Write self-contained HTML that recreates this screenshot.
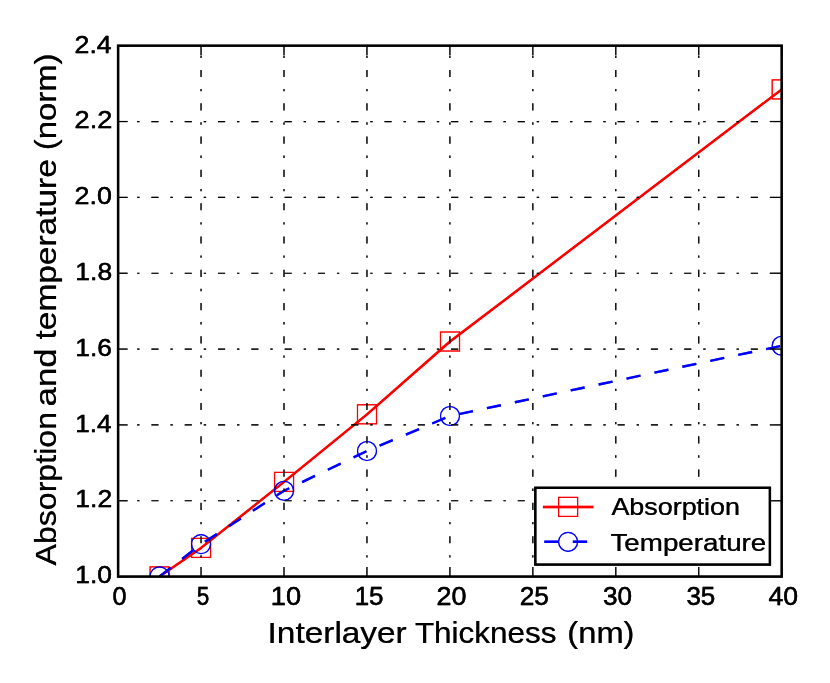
<!DOCTYPE html>
<html lang="en"><head><meta charset="utf-8"><title>Absorption and temperature vs interlayer thickness</title>
<style>html,body{margin:0;padding:0;background:#fff;overflow:hidden}svg{display:block}text{font-family:"Liberation Sans",sans-serif;fill:#000;stroke:#000;stroke-linejoin:round}</style>
</head><body>
<svg width="830" height="683" viewBox="0 0 830 683" style="will-change:transform">
<defs><filter id="gm" x="0" y="0" width="830" height="683" filterUnits="userSpaceOnUse" color-interpolation-filters="sRGB"><feComponentTransfer><feFuncR type="gamma" exponent="1.50"/><feFuncG type="gamma" exponent="1.50"/><feFuncB type="gamma" exponent="1.50"/></feComponentTransfer></filter></defs>
<g filter="url(#gm)">
<rect x="0" y="0" width="830" height="683" fill="#fff"/>
<defs><clipPath id="ax"><rect x="118.10" y="45.70" width="663.60" height="530.90"/></clipPath></defs>
<g clip-path="url(#ax)" fill="none">
<polyline points="159.60,576.40 201.05,547.90 284.05,481.90 367.00,414.30 450.00,341.50 781.70,89.40" stroke="#f00" stroke-width="2.38" stroke-linejoin="round"/>
<rect x="150.09" y="566.89" width="19.03" height="19.03" stroke="#f00" stroke-width="1.19"/>
<rect x="191.54" y="538.39" width="19.03" height="19.03" stroke="#f00" stroke-width="1.19"/>
<rect x="274.54" y="472.39" width="19.03" height="19.03" stroke="#f00" stroke-width="1.19"/>
<rect x="357.49" y="404.79" width="19.03" height="19.03" stroke="#f00" stroke-width="1.19"/>
<rect x="440.49" y="331.99" width="19.03" height="19.03" stroke="#f00" stroke-width="1.19"/>
<rect x="772.19" y="79.89" width="19.03" height="19.03" stroke="#f00" stroke-width="1.19"/>
<polyline points="159.60,576.40 201.05,544.10 284.05,490.75 367.00,451.00 450.00,416.00 781.70,345.75" stroke="#00f" stroke-width="2.38" stroke-dasharray="14.27 14.27"/>
<circle cx="159.60" cy="576.40" r="9.51" stroke="#00f" stroke-width="1.19"/>
<circle cx="201.05" cy="544.10" r="9.51" stroke="#00f" stroke-width="1.19"/>
<circle cx="284.05" cy="490.75" r="9.51" stroke="#00f" stroke-width="1.19"/>
<circle cx="367.00" cy="451.00" r="9.51" stroke="#00f" stroke-width="1.19"/>
<circle cx="450.00" cy="416.00" r="9.51" stroke="#00f" stroke-width="1.19"/>
<circle cx="781.70" cy="345.75" r="9.51" stroke="#00f" stroke-width="1.19"/>
</g>
<g stroke="#000" stroke-width="1.19" fill="none" stroke-dasharray="7.14 11.89 2.38 11.89" stroke-dashoffset="7.14">
<line x1="201.05" y1="569.46" x2="201.05" y2="45.70"/>
<line x1="284.00" y1="569.46" x2="284.00" y2="45.70"/>
<line x1="366.95" y1="569.46" x2="366.95" y2="45.70"/>
<line x1="449.90" y1="569.46" x2="449.90" y2="45.70"/>
<line x1="532.85" y1="569.46" x2="532.85" y2="45.70"/>
<line x1="615.80" y1="569.46" x2="615.80" y2="45.70"/>
<line x1="698.75" y1="569.46" x2="698.75" y2="45.70"/>
<line x1="125.24" y1="500.76" x2="781.70" y2="500.76"/>
<line x1="125.24" y1="424.91" x2="781.70" y2="424.91"/>
<line x1="125.24" y1="349.07" x2="781.70" y2="349.07"/>
<line x1="125.24" y1="273.23" x2="781.70" y2="273.23"/>
<line x1="125.24" y1="197.39" x2="781.70" y2="197.39"/>
<line x1="125.24" y1="121.54" x2="781.70" y2="121.54"/>
</g>
<g stroke="#000" stroke-width="1.19">
<line x1="118.10" y1="576.60" x2="118.10" y2="567.09"/>
<line x1="118.10" y1="45.70" x2="118.10" y2="55.21"/>
<line x1="201.05" y1="576.60" x2="201.05" y2="567.09"/>
<line x1="201.05" y1="45.70" x2="201.05" y2="55.21"/>
<line x1="284.00" y1="576.60" x2="284.00" y2="567.09"/>
<line x1="284.00" y1="45.70" x2="284.00" y2="55.21"/>
<line x1="366.95" y1="576.60" x2="366.95" y2="567.09"/>
<line x1="366.95" y1="45.70" x2="366.95" y2="55.21"/>
<line x1="449.90" y1="576.60" x2="449.90" y2="567.09"/>
<line x1="449.90" y1="45.70" x2="449.90" y2="55.21"/>
<line x1="532.85" y1="576.60" x2="532.85" y2="567.09"/>
<line x1="532.85" y1="45.70" x2="532.85" y2="55.21"/>
<line x1="615.80" y1="576.60" x2="615.80" y2="567.09"/>
<line x1="615.80" y1="45.70" x2="615.80" y2="55.21"/>
<line x1="698.75" y1="576.60" x2="698.75" y2="567.09"/>
<line x1="698.75" y1="45.70" x2="698.75" y2="55.21"/>
<line x1="781.70" y1="576.60" x2="781.70" y2="567.09"/>
<line x1="781.70" y1="45.70" x2="781.70" y2="55.21"/>
<line x1="118.10" y1="576.60" x2="127.61" y2="576.60"/>
<line x1="781.70" y1="576.60" x2="772.19" y2="576.60"/>
<line x1="118.10" y1="500.76" x2="127.61" y2="500.76"/>
<line x1="781.70" y1="500.76" x2="772.19" y2="500.76"/>
<line x1="118.10" y1="424.91" x2="127.61" y2="424.91"/>
<line x1="781.70" y1="424.91" x2="772.19" y2="424.91"/>
<line x1="118.10" y1="349.07" x2="127.61" y2="349.07"/>
<line x1="781.70" y1="349.07" x2="772.19" y2="349.07"/>
<line x1="118.10" y1="273.23" x2="127.61" y2="273.23"/>
<line x1="781.70" y1="273.23" x2="772.19" y2="273.23"/>
<line x1="118.10" y1="197.39" x2="127.61" y2="197.39"/>
<line x1="781.70" y1="197.39" x2="772.19" y2="197.39"/>
<line x1="118.10" y1="121.54" x2="127.61" y2="121.54"/>
<line x1="781.70" y1="121.54" x2="772.19" y2="121.54"/>
<line x1="118.10" y1="45.70" x2="127.61" y2="45.70"/>
<line x1="781.70" y1="45.70" x2="772.19" y2="45.70"/>
</g>
<rect x="118.10" y="45.70" width="663.60" height="530.90" fill="none" stroke="#000" stroke-width="2.38"/>
<g opacity="0.999">
<text font-size="25.0" stroke-width="0.40" x="112.48" y="604.60" textLength="14.02" lengthAdjust="spacingAndGlyphs">0</text>
<text font-size="25.0" stroke-width="0.40" x="196.71" y="604.60" textLength="12.50" lengthAdjust="spacingAndGlyphs">5</text>
<text font-size="25.0" stroke-width="0.40" x="270.86" y="604.60" textLength="30.32" lengthAdjust="spacingAndGlyphs">10</text>
<text font-size="25.0" stroke-width="0.40" x="354.68" y="604.60" textLength="28.88" lengthAdjust="spacingAndGlyphs">15</text>
<text font-size="25.0" stroke-width="0.40" x="436.49" y="604.60" textLength="29.88" lengthAdjust="spacingAndGlyphs">20</text>
<text font-size="25.0" stroke-width="0.40" x="519.66" y="604.60" textLength="29.21" lengthAdjust="spacingAndGlyphs">25</text>
<text font-size="25.0" stroke-width="0.40" x="603.01" y="604.60" textLength="29.04" lengthAdjust="spacingAndGlyphs">30</text>
<text font-size="25.0" stroke-width="0.40" x="686.41" y="604.60" textLength="28.90" lengthAdjust="spacingAndGlyphs">35</text>
<text font-size="25.0" stroke-width="0.40" x="768.43" y="604.60" textLength="29.62" lengthAdjust="spacingAndGlyphs">40</text>
<text font-size="24.0" stroke-width="0.40" x="75.32" y="583.20" textLength="36.78" lengthAdjust="spacingAndGlyphs">1.0</text>
<text font-size="24.0" stroke-width="0.40" x="75.34" y="507.36" textLength="36.83" lengthAdjust="spacingAndGlyphs">1.2</text>
<text font-size="24.0" stroke-width="0.40" x="75.33" y="431.51" textLength="36.34" lengthAdjust="spacingAndGlyphs">1.4</text>
<text font-size="24.0" stroke-width="0.40" x="75.35" y="355.67" textLength="36.63" lengthAdjust="spacingAndGlyphs">1.6</text>
<text font-size="24.0" stroke-width="0.40" x="75.36" y="279.83" textLength="36.76" lengthAdjust="spacingAndGlyphs">1.8</text>
<text font-size="24.0" stroke-width="0.40" x="74.51" y="203.99" textLength="37.33" lengthAdjust="spacingAndGlyphs">2.0</text>
<text font-size="24.0" stroke-width="0.40" x="74.62" y="128.14" textLength="37.74" lengthAdjust="spacingAndGlyphs">2.2</text>
<text font-size="24.0" stroke-width="0.40" x="74.58" y="53.00" textLength="37.13" lengthAdjust="spacingAndGlyphs">2.4</text>
<text font-size="30.0" stroke-width="0.15" x="267.59" y="642.60" textLength="139.17" lengthAdjust="spacingAndGlyphs">Interlayer</text>
<text font-size="30.0" stroke-width="0.15" x="414.92" y="642.60" textLength="141.53" lengthAdjust="spacingAndGlyphs">Thickness</text>
<text font-size="30.0" stroke-width="0.15" x="567.35" y="642.60" textLength="67.11" lengthAdjust="spacingAndGlyphs">(nm)</text>
<text font-size="30.0" stroke-width="0.15" transform="translate(56.20 565.54) rotate(-90)" textLength="153.56" lengthAdjust="spacingAndGlyphs">Absorption</text>
<text font-size="30.0" stroke-width="0.15" transform="translate(56.20 406.41) rotate(-90)" textLength="57.96" lengthAdjust="spacingAndGlyphs">and</text>
<text font-size="30.0" stroke-width="0.15" transform="translate(56.20 339.51) rotate(-90)" textLength="180.35" lengthAdjust="spacingAndGlyphs">temperature</text>
<text font-size="30.0" stroke-width="0.15" transform="translate(56.20 150.26) rotate(-90)" textLength="96.83" lengthAdjust="spacingAndGlyphs">(norm)</text>
</g>
<rect x="535.30" y="487.80" width="234.60" height="76.80" fill="#fff" stroke="#000" stroke-width="2.38"/>
<g fill="none">
<line x1="542.9" y1="507.0" x2="593.4" y2="507.0" stroke="#f00" stroke-width="2.38"/>
<rect x="558.59" y="497.39" width="19.03" height="19.03" stroke="#f00" stroke-width="1.19"/>
<line x1="544.3" y1="541.8" x2="593.4" y2="541.8" stroke="#00f" stroke-width="2.38" stroke-dasharray="14.27 14.27"/>
<circle cx="568.1" cy="541.8" r="9.51" stroke="#00f" stroke-width="1.19"/>
</g>
<g opacity="0.999">
<text font-size="24.0" stroke-width="0.20" x="611.44" y="515.40" textLength="128.54" lengthAdjust="spacingAndGlyphs">Absorption</text>
<text font-size="24.0" stroke-width="0.20" x="610.49" y="550.60" textLength="155.79" lengthAdjust="spacingAndGlyphs">Temperature</text>
</g>
</g>
</svg>
</body></html>
